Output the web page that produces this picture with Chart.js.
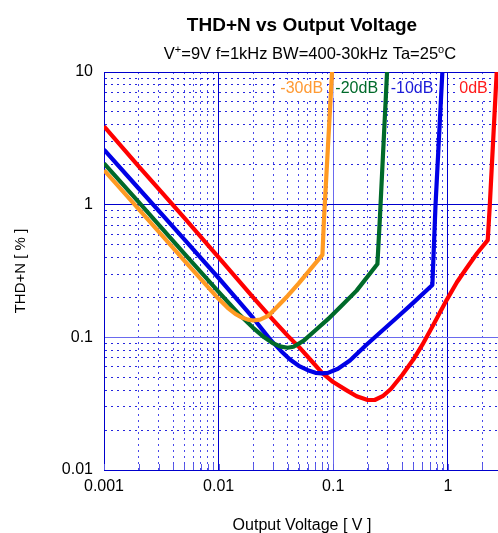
<!DOCTYPE html>
<html><head><meta charset="utf-8">
<script src="https://cdn.jsdelivr.net/npm/chart.js@4"></script>
<style>html,body{margin:0;padding:0;background:#fff;}canvas{display:block;}</style>
</head><body>
<canvas id="c" width="498" height="533"></canvas>
<script>
// ---- DATA ----
const seriesNames = ['-30dB', '-20dB', '-10dB', '0dB'];
const voltsM30 = [0.001, 0.002, 0.005, 0.01, 0.012, 0.014, 0.016, 0.018, 0.02, 0.023, 0.027, 0.032, 0.04, 0.05, 0.065, 0.0805, 0.083, 0.0977];
const thdM30   = [1.82, 0.93, 0.38, 0.195, 0.167, 0.150, 0.141, 0.136, 0.134, 0.136, 0.145, 0.168, 0.205, 0.255, 0.335, 0.418, 0.77, 10];
const voltsM20 = [0.001, 0.002, 0.005, 0.01, 0.015, 0.02, 0.025, 0.03, 0.035, 0.04, 0.045, 0.055, 0.07, 0.09, 0.12, 0.16, 0.243, 0.255, 0.295];
const thdM20   = [2.05, 1.05, 0.43, 0.22, 0.15, 0.118, 0.1, 0.09, 0.085, 0.0835, 0.085, 0.094, 0.113, 0.137, 0.175, 0.225, 0.357, 0.77, 10];
const voltsM10 = [0.001, 0.002, 0.005, 0.01, 0.02, 0.028, 0.035, 0.042, 0.05, 0.06, 0.07, 0.08, 0.09, 0.11, 0.14, 0.195, 0.356, 0.498, 0.733, 0.78, 0.896];
const thdM10   = [2.6, 1.33, 0.55, 0.28, 0.14, 0.097, 0.079, 0.068, 0.061, 0.0565, 0.054, 0.0535, 0.054, 0.058, 0.067, 0.088, 0.14, 0.182, 0.248, 0.97, 10];
const volts0   = [0.001, 0.002, 0.005, 0.01, 0.02, 0.03, 0.04, 0.05, 0.065, 0.08, 0.1, 0.13, 0.16, 0.2, 0.23, 0.27, 0.32, 0.4, 0.5, 0.6, 0.75, 0.973, 1.2, 1.45, 1.8, 2.23, 2.32, 2.67];
const thd0     = [3.9, 1.95, 0.8, 0.4, 0.2, 0.135, 0.103, 0.085, 0.066, 0.054, 0.046, 0.04, 0.036, 0.0337, 0.0337, 0.036, 0.041, 0.052, 0.068, 0.088, 0.125, 0.19, 0.26, 0.33, 0.43, 0.54, 0.966, 10];
const xTickLabels = ['0.001', '0.01', '0.1', '1'];
const yTickLabels = ['0.01', '0.1', '1', '10'];
const titleText = 'THD+N vs Output Voltage';
const subtitleParts = [['V', false], ['+', true], ['=9V f=1kHz BW=400-30kHz Ta=25', false], ['o', true], ['C', false]];
const xAxisTitle = 'Output Voltage [ V ]';
const yAxisTitle = 'THD+N [ % ]';

// ---- STYLE ----
const FONT = '"Liberation Sans", Arial, sans-serif';
const seriesColors = ['#ff9a22', '#006a2a', '#0000e6', '#ff0000'];
const labelColors = ['#ff9a33', '#006a2a', '#1a1ad8', '#ff1a1a'];

function pts(xs, ys) { return xs.map((x, i) => ({x: x, y: ys[i]})); }
const seriesX = [voltsM30, voltsM20, voltsM10, volts0];
const seriesY = [thdM30, thdM20, thdM10, thd0];

function isDecade(v) { const l = Math.log10(v); return Math.abs(l - Math.round(l)) < 1e-6; }
function isGridValue(v) {
  const e = Math.floor(Math.log10(v) + 1e-9);
  const m = v / Math.pow(10, e);
  return Math.abs(m - Math.round(m)) < 1e-6;
}
function labelFor(list, v) {
  for (const s of list) { if (Math.abs(Number(s) - v) / v < 1e-6) return s; }
  return '';
}

const textPlugin = {
  id: 'texts',
  beforeDatasetsDraw(chart) {
    const ctx = chart.ctx, a = chart.chartArea;
    const xs = chart.scales.x;
    ctx.save();
    ctx.strokeStyle = '#5a5ae6';
    ctx.lineWidth = 1;
    xs.ticks.forEach(t => {
      const px = Math.round(xs.getPixelForValue(t.value)) + 0.5;
      ctx.beginPath(); ctx.moveTo(px, a.bottom); ctx.lineTo(px, a.bottom - 6); ctx.stroke();
    });
    ctx.font = '16px ' + FONT;
    ctx.textBaseline = 'middle';
    ctx.textAlign = 'right';
    seriesNames.forEach((name, i) => {
      const meta = chart.getDatasetMeta(i);
      const last = meta.data[meta.data.length - 1];
      const rx = last.x - 9;
      const w = ctx.measureText(name).width;
      ctx.fillStyle = '#ffffff';
      ctx.fillRect(rx - w - 2, a.top + 8, w + 3, 18);
      ctx.fillStyle = labelColors[i];
      ctx.fillText(name, rx, a.top + 17);
    });
    ctx.restore();
  },
  afterDraw(chart) {
    const ctx = chart.ctx, a = chart.chartArea;
    const cx = (a.left + a.right) / 2;
    ctx.save();
    ctx.fillStyle = '#000';
    ctx.textBaseline = 'alphabetic';
    ctx.textAlign = 'center';
    ctx.font = 'bold 19px ' + FONT;
    ctx.fillText(titleText, cx + 1, 31);
    const nf = '16.5px ' + FONT, sf = '11px ' + FONT;
    let total = 0;
    subtitleParts.forEach(([t, sup]) => { ctx.font = sup ? sf : nf; total += ctx.measureText(t).width; });
    let x = cx + 9 - total / 2;
    ctx.textAlign = 'left';
    subtitleParts.forEach(([t, sup]) => {
      ctx.font = sup ? sf : nf;
      ctx.fillText(t, x, sup ? 53 : 59);
      x += ctx.measureText(t).width;
    });
    ctx.textAlign = 'center';
    ctx.font = '16px ' + FONT;
    ctx.fillText(xAxisTitle, cx + 1, 530);
    ctx.translate(21, (a.top + a.bottom) / 2);
    ctx.rotate(-Math.PI / 2);
    ctx.textBaseline = 'middle';
    ctx.font = '15px ' + FONT;
    ctx.fillText(yAxisTitle, 0, 0);
    ctx.restore();
  }
};

const datasets = seriesNames.map((n, i) => ({
  label: n,
  data: pts(seriesX[i], seriesY[i]),
  borderColor: seriesColors[i],
  backgroundColor: seriesColors[i],
  borderWidth: 4.2,
  borderJoinStyle: 'round',
  pointRadius: 0,
  tension: 0,
  fill: false
}));

new Chart(document.getElementById('c'), {
  type: 'line',
  data: {datasets},
  plugins: [textPlugin],
  options: {
    responsive: false,
    animation: false,
    layout: {padding: {left: 0, right: 0, top: 72, bottom: 0}},
    plugins: {legend: {display: false}, title: {display: false}, tooltip: {enabled: false}},
    scales: {
      x: {
        type: 'logarithmic',
        min: 0.001,
        max: 2.74,
        afterBuildTicks: s => { s.ticks = s.ticks.filter(t => isGridValue(t.value) && t.value <= s.max); },
        afterFit: s => { s.height = 63; },
        ticks: {
          autoSkip: false, maxRotation: 0, padding: 7,
          color: '#000', font: {family: FONT, size: 16},
          callback: v => labelFor(xTickLabels, v)
        },
        grid: {
          drawTicks: false,
          lineWidth: 1,
          color: c => {
            const v = c.tick ? c.tick.value : 1;
            if (isDecade(v)) return Math.abs(v - 0.1) < 1e-9 ? '#6a6aee' : '#0000cc';
            return 'rgba(40,40,230,0.85)';
          }
        },
        border: {display: true, color: '#0000cc', width: 1, dash: c => (c.tick && !isDecade(c.tick.value)) ? [2, 4] : []}
      },
      y: {
        type: 'logarithmic',
        min: 0.01,
        max: 10,
        afterBuildTicks: s => { s.ticks = s.ticks.filter(t => isGridValue(t.value) && t.value <= s.max); },
        afterFit: s => { s.width = 104; },
        ticks: {
          autoSkip: false, padding: 11,
          color: '#000', font: {family: FONT, size: 16},
          callback: v => labelFor(yTickLabels, v)
        },
        grid: {
          drawTicks: false,
          lineWidth: 1,
          color: c => {
            const v = c.tick ? c.tick.value : 1;
            if (isDecade(v)) return Math.abs(v - 0.1) < 1e-9 ? '#6a6aee' : '#0000cc';
            return 'rgba(0,0,215,0.85)';
          }
        },
        border: {display: true, color: '#0000cc', width: 1, dash: c => (c.tick && !isDecade(c.tick.value)) ? [2, 4] : []}
      }
    }
  }
});
</script>
</body></html>
